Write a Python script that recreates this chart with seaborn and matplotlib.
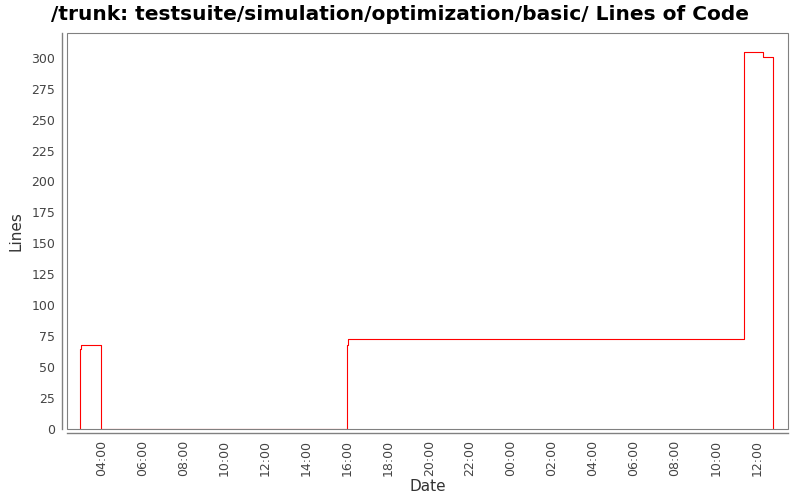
import pandas as pd
import matplotlib
matplotlib.use("Agg")
import matplotlib.pyplot as plt
import matplotlib.dates as mdates
from matplotlib.patches import Rectangle
import seaborn as sns

# data (Lines of Code over time)
times = ["2010-03-01 02:58", "2010-03-01 02:58", "2010-03-01 03:01",
         "2010-03-01 04:00", "2010-03-01 16:00", "2010-03-01 16:03",
         "2010-03-02 11:22", "2010-03-02 12:18", "2010-03-02 12:48"]
lines = [0, 65, 68, 0, 68, 73, 305, 301, 0]

sns.set_style("white")
plt.rcParams["font.family"] = ["DejaVu Sans"]

df = pd.DataFrame({"Date": pd.to_datetime(times), "Lines": lines})

fig = plt.figure(figsize=(8, 5), dpi=100)
ax = fig.add_axes([0.084, 0.142, 0.901, 0.792])

sns.lineplot(data=df, x="Date", y="Lines", estimator=None, sort=False,
             drawstyle="steps-post", color="red", lw=0.8, ax=ax)

ax.set_xlim(pd.Timestamp("2010-03-01 02:20"), pd.Timestamp("2010-03-02 13:31"))
ax.set_ylim(0, 320)
ax.set_yticks(range(0, 301, 25))
ax.xaxis.set_major_locator(mdates.HourLocator(byhour=range(0, 24, 2)))
ax.xaxis.set_major_formatter(mdates.DateFormatter("%H:%M"))

grey = "#808080"
for side in ["top", "right"]:
    ax.spines[side].set_visible(False)
ax.spines["left"].set_position(("outward", 3.6))
ax.spines["bottom"].set_position(("outward", 3))
for side in ["left", "bottom"]:
    ax.spines[side].set_color(grey)
    ax.spines[side].set_linewidth(1)
ax.add_patch(Rectangle((0, 0), 1, 1, transform=ax.transAxes, fill=False,
                       edgecolor=grey, lw=0.8, clip_on=False, zorder=5))

ax.tick_params(axis="both", direction="out", length=3, width=0.8, color=grey,
               labelsize=9, labelcolor="#444444", pad=2)
ax.tick_params(axis="x", rotation=90)

ax.set_xlabel("Date", fontsize=11, color="#333333", labelpad=2)
ax.set_ylabel("Lines", fontsize=11, color="#333333", labelpad=6)
fig.suptitle("/trunk: testsuite/simulation/optimization/basic/ Lines of Code",
             x=0.5, y=0.972, va="center", fontsize=14.5, fontweight="bold",
             color="black")

fig.savefig("out.png", dpi=100)
